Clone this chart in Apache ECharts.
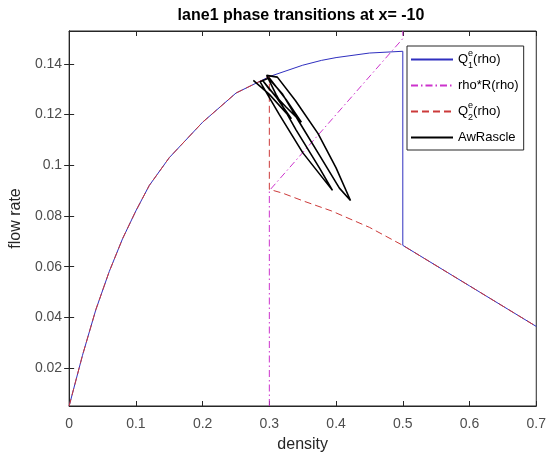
<!DOCTYPE html>
<html>
<head>
<meta charset="utf-8">
<script src="https://cdn.jsdelivr.net/npm/echarts@6/dist/echarts.min.js"></script>
<style>
  html, body { margin: 0; padding: 0; background: #fff; }
  #chart { width: 549px; height: 460px; }
</style>
</head>
<body>
<div id="chart"></div>
<script>
// axis ticks
const xTicks = [0, 0.1, 0.2, 0.3, 0.4, 0.5, 0.6, 0.7];
const yTicks = [0.02, 0.04, 0.06, 0.08, 0.1, 0.12, 0.14];

// Q1e(rho): free branch up to 0.5, jump, then congested branch
const q1Rho = [0, 0.02, 0.04, 0.06, 0.08, 0.1, 0.12, 0.15, 0.2, 0.25, 0.3, 0.35, 0.378, 0.4, 0.45, 0.5, 0.5, 0.6, 0.7];
const q1Flow = [0.005, 0.025, 0.043, 0.058, 0.071, 0.082, 0.092, 0.103, 0.117, 0.1285, 0.135, 0.1395, 0.1414, 0.1425, 0.1443, 0.145, 0.0684, 0.0524, 0.0364];

// rho*R(rho)
const rrRho = [0.3, 0.3, 0.5, 0.5];
const rrFlow = [0.005, 0.09, 0.15, 0.153];

// Q2e(rho): same free branch up to 0.3, jump down, then decreasing
const q2Rho = [0, 0.02, 0.04, 0.06, 0.08, 0.1, 0.12, 0.15, 0.2, 0.25, 0.3, 0.3, 0.32, 0.35, 0.393, 0.45, 0.5, 0.6, 0.7];
const q2Flow = [0.005, 0.025, 0.043, 0.058, 0.071, 0.082, 0.092, 0.103, 0.117, 0.1285, 0.135, 0.0905, 0.0890, 0.0860, 0.0820, 0.0755, 0.0684, 0.0524, 0.0364];

// AwRascle trajectory (narrow loops hanging from the top cluster)
const awRho = [0.276, 0.300, 0.333, 0.310, 0.290,
  0.300, 0.325, 0.348, 0.325, 0.300,
  0.286, 0.315, 0.350, 0.3946, 0.375, 0.340, 0.310, 0.296,
  0.312, 0.339, 0.373, 0.400, 0.4216, 0.405, 0.375, 0.345, 0.320, 0.300];
const awFlow = [0.1335, 0.128, 0.1184, 0.127, 0.1335,
  0.130, 0.123, 0.117, 0.126, 0.1345,
  0.133, 0.120, 0.105, 0.0901, 0.099, 0.114, 0.128, 0.1355,
  0.1348, 0.1256, 0.1125, 0.099, 0.0861, 0.091, 0.104, 0.117, 0.128, 0.134];

const zip = (xs, ys) => xs.map((x, i) => [x, ys[i]]);

const FONT = "Liberation Sans";
const chart = echarts.init(document.getElementById("chart"));

const axisCommon = {
  type: "value",
  axisLine: { show: true, lineStyle: { color: "#262626", width: 1 } },
  splitLine: { show: false },
};

const option = {
  backgroundColor: "#fff",
  animation: false,
  title: {
    text: "lane1 phase transitions at x= -10",
    left: 301,
    textAlign: "center",
    top: 8,
    padding: 0,
    textStyle: { fontFamily: FONT, fontSize: 16, fontWeight: "bold", color: "#000" },
  },
  grid: {
    left: 64, right: 11, top: 31, bottom: 54,
    show: true, borderColor: "#262626", borderWidth: 1, backgroundColor: "#fff",
  },
  legend: {
    orient: "vertical",
    left: 407,
    top: 46,
    itemWidth: 42,
    itemHeight: 14,
    itemGap: 5,
    padding: [3, 5, 2, 3],
    borderColor: "#262626",
    borderWidth: 1,
    backgroundColor: "#fff",
    itemStyle: { color: "rgba(0,0,0,0)", borderWidth: 0 },
    data: ["Q1", "rhoR", "Q2", "AwRascle"],
    textStyle: {
      fontFamily: FONT, fontSize: 13, color: "#000", lineHeight: 21,
      rich: {
        q: { fontFamily: FONT, fontSize: 13, color: "#000", lineHeight: 21 },
        sup: { fontFamily: FONT, fontSize: 9, color: "#000", width: 0, lineHeight: 9, verticalAlign: "top" },
        sub: { fontFamily: FONT, fontSize: 9, color: "#000", lineHeight: 9, verticalAlign: "bottom" },
      },
    },
    formatter: (name) => {
      if (name === "Q1") return "{q|Q}{sup|e}{sub|1}{q|(rho)}";
      if (name === "Q2") return "{q|Q}{sup|e}{sub|2}{q|(rho)}";
      if (name === "rhoR") return "rho*R(rho)";
      return name;
    },
  },
  xAxis: [
    {
      ...axisCommon,
      position: "bottom",
      min: 0, max: 0.7,
      name: "density",
      nameLocation: "middle",
      nameGap: 31,
      nameTextStyle: { fontFamily: FONT, fontSize: 16, color: "#262626" },
      axisTick: { show: true, inside: true, length: 5, customValues: xTicks, lineStyle: { color: "#262626" } },
      axisLabel: { customValues: xTicks, margin: 11, fontFamily: FONT, fontSize: 14, color: "#4d4d4d" },
    },
    {
      ...axisCommon,
      position: "top",
      min: 0, max: 0.7,
      axisTick: { show: true, inside: true, length: 5, customValues: xTicks, lineStyle: { color: "#262626" } },
      axisLabel: { show: false },
    },
  ],
  yAxis: [
    {
      ...axisCommon,
      position: "left",
      min: 0.005, max: 0.153,
      name: "flow rate",
      nameLocation: "middle",
      nameGap: 38,
      nameTextStyle: { fontFamily: FONT, fontSize: 16, color: "#262626" },
      axisTick: { show: true, inside: true, length: 5, customValues: yTicks, lineStyle: { color: "#262626" } },
      axisLabel: { customValues: yTicks, margin: 7, fontFamily: FONT, fontSize: 14, color: "#4d4d4d" },
    },
    {
      ...axisCommon,
      position: "right",
      min: 0.005, max: 0.153,
      axisTick: { show: true, inside: true, length: 5, customValues: yTicks, lineStyle: { color: "#262626" } },
      axisLabel: { show: false },
    },
  ],
  series: [
    {
      name: "Q1", type: "line", data: zip(q1Rho, q1Flow),
      showSymbol: false, symbol: "none",
      lineStyle: { color: "#2f2fbf", width: 1 }, itemStyle: { color: "#2f2fbf" },
    },
    {
      name: "rhoR", type: "line", data: zip(rrRho, rrFlow),
      showSymbol: false, symbol: "none",
      lineStyle: { color: "#cc33cc", width: 1, type: [7, 3, 1.5, 3] }, itemStyle: { color: "#cc33cc" },
    },
    {
      name: "Q2", type: "line", data: zip(q2Rho, q2Flow),
      showSymbol: false, symbol: "none",
      lineStyle: { color: "#cc3a3a", width: 1, type: [7, 4] }, itemStyle: { color: "#cc3a3a" },
    },
    {
      name: "AwRascle", type: "line", data: zip(awRho, awFlow),
      showSymbol: false, symbol: "none",
      lineStyle: { color: "#000", width: 1.6 }, itemStyle: { color: "#000" },
    },
  ],
};

chart.setOption(option);
</script>
</body>
</html>
